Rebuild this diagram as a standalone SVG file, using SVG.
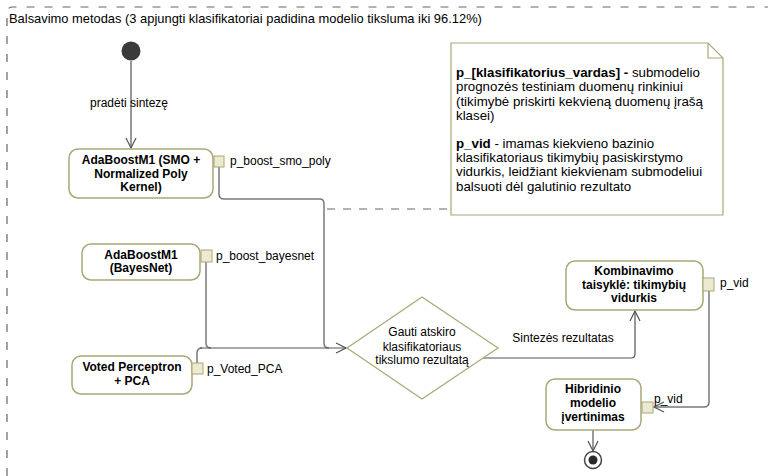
<svg xmlns="http://www.w3.org/2000/svg" width="768" height="476" viewBox="0 0 768 476">
<defs>
<style>
text{font-family:"Liberation Sans",Arial,sans-serif;font-size:12px;fill:#000}
.b{font-weight:bold}
.nt{font-size:13.3px}
.node{fill:#fff;stroke:#a8a878;stroke-width:1.5}
.pin{fill:#ecead0;stroke:#a8a878;stroke-width:1}
.c{fill:none;stroke:#7a7a7a;stroke-width:1.5}
.cd{fill:none;stroke:#555;stroke-width:1.2}
</style>
<marker id="ah" viewBox="0 0 12 12" refX="11" refY="6" markerWidth="12" markerHeight="12" markerUnits="userSpaceOnUse" orient="auto">
<path d="M1,1 L11,6 L1,11" fill="none" stroke="#555" stroke-width="1.2"/>
</marker>
</defs>
<rect width="768" height="476" fill="#fff"/>
<g id="frame">
<path d="M7,476 V13 Q7,7 13,7 H768" fill="none" stroke="#666" stroke-width="1.2" stroke-dasharray="8,10"/>
<text x="9" y="23" style="font-size:12.9px">Balsavimo metodas (3 apjungti klasifikatoriai padidina modelio tiksluma iki 96.12%)</text>
</g>
<g id="connectors">
<path class="cd" d="M131,61 V148" marker-end="url(#ah)"/>
<text x="129" y="107" text-anchor="middle">pradėti sintezę</text>
<path class="c" d="M219,167 V194 Q219,199 224,199 H320 Q324,199 324,204 V343 Q324,348 329,348"/>
<path class="c" d="M206,262 V343 Q206,348 211,348"/>
<path class="c" d="M197,363 V353 Q197,348 202,348"/>
<path class="cd" d="M200,348 H346" marker-end="url(#ah)"/>
<path class="cd" d="M483,358 H631 Q635,358 635,354 V311" marker-end="url(#ah)"/>
<text x="563" y="342" text-anchor="middle">Sintezės rezultatas</text>
<path class="c" d="M709,291 V402 Q709,407 704,407 H654" marker-end="url(#ah)"/>
<path class="cd" d="M593,430 V451" marker-end="url(#ah)"/>
<path d="M327,209 H451" fill="none" stroke="#666" stroke-width="1.2" stroke-dasharray="8,8"/>
</g>
<g id="start">
<circle cx="131" cy="51" r="9.5" fill="#3a3a3a"/>
</g>
<g id="note">
<path d="M451,43 H708 L723,58 V215 H451 Z" fill="#fff" stroke="#a8a878" stroke-width="1.2"/>
<path d="M708,43 V58 H723" fill="none" stroke="#a8a878" stroke-width="1.2"/>
<text class="nt" x="456" y="77"><tspan class="b">p_[klasifikatorius_vardas] -</tspan> submodelio</text>
<text class="nt" x="456" y="91">prognozės testiniam duomenų rinkiniui</text>
<text class="nt" x="456" y="106">(tikimybė priskirti kekvieną duomenų įrašą</text>
<text class="nt" x="456" y="120">klasei)</text>
<text class="nt" x="456" y="148"><tspan class="b">p_vid</tspan> - imamas kiekvieno bazinio</text>
<text class="nt" x="456" y="162">klasifikatoriaus tikimybių pasiskirstymo</text>
<text class="nt" x="456" y="176">vidurkis, leidžiant kiekvienam submodeliui</text>
<text class="nt" x="456" y="191">balsuoti dėl galutinio rezultato</text>
</g>
<g id="smo">
<rect class="node" x="69" y="149" width="144" height="49" rx="9"/>
<text class="b" x="141" y="164" text-anchor="middle">AdaBoostM1 (SMO +</text>
<text class="b" x="141" y="178" text-anchor="middle">Normalized Poly</text>
<text class="b" x="141" y="191" text-anchor="middle">Kernel)</text>
<rect class="pin" x="214" y="156" width="10" height="11"/>
<text x="230" y="165">p_boost_smo_poly</text>
</g>
<g id="bayes">
<rect class="node" x="82" y="244" width="118" height="36" rx="9"/>
<text class="b" x="141" y="259" text-anchor="middle">AdaBoostM1</text>
<text class="b" x="141" y="272" text-anchor="middle">(BayesNet)</text>
<rect class="pin" x="201" y="250" width="11" height="12"/>
<text x="216" y="260">p_boost_bayesnet</text>
</g>
<g id="voted">
<rect class="node" x="72" y="356" width="120" height="38" rx="9"/>
<text class="b" x="132" y="371" text-anchor="middle">Voted Perceptron</text>
<text class="b" x="132" y="385" text-anchor="middle">+ PCA</text>
<rect class="pin" x="192" y="363" width="11" height="11"/>
<text x="207" y="373">p_Voted_PCA</text>
</g>
<g id="decision">
<path d="M347,348 L422,297 L498,348 L422,399 Z" fill="#fff" stroke="#a8a878" stroke-width="1.2"/>
<text x="422" y="336" text-anchor="middle">Gauti atskiro</text>
<text x="422" y="351" text-anchor="middle">klasifikatoriaus</text>
<text x="422" y="364" text-anchor="middle">tikslumo rezultatą</text>
</g>
<g id="komb">
<rect class="node" x="566" y="261" width="137" height="49" rx="9"/>
<text class="b" x="634" y="275" text-anchor="middle">Kombinavimo</text>
<text class="b" x="634" y="289" text-anchor="middle">taisyklė: tikimybių</text>
<text class="b" x="634" y="302" text-anchor="middle">vidurkis</text>
<rect class="pin" x="703" y="278" width="11" height="13"/>
<text x="720" y="287">p_vid</text>
</g>
<g id="hibrid">
<rect class="node" x="546" y="379" width="95" height="51" rx="9"/>
<text class="b" x="593" y="393" text-anchor="middle">Hibridinio</text>
<text class="b" x="593" y="407" text-anchor="middle">modelio</text>
<text class="b" x="593" y="421" text-anchor="middle">įvertinimas</text>
<rect class="pin" x="642" y="402" width="11" height="11"/>
<text x="654" y="403">p_vid</text>
</g>
<g id="end">
<circle cx="593" cy="460" r="8.5" fill="#fff" stroke="#444" stroke-width="1.5"/>
<circle cx="593" cy="460" r="4.5" fill="#2a2a2a"/>
</g>
</svg>
